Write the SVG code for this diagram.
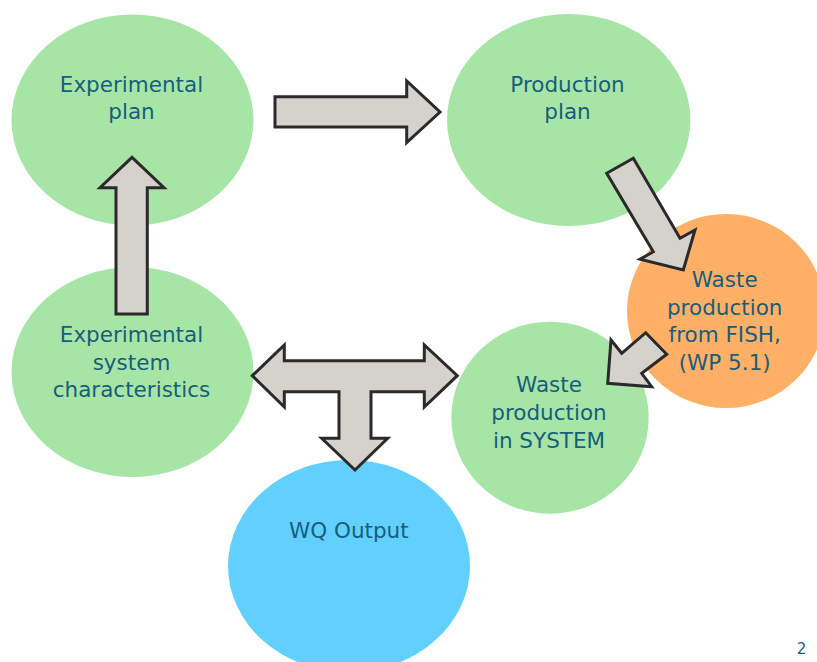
<svg xmlns="http://www.w3.org/2000/svg" width="817" height="662" viewBox="0 0 817 662">
  <defs>
    <style>
      .green { fill: #a7e5a7; }
      .orange { fill: #ffb066; }
      .blue { fill: #61d0ff; }
      .arrow { fill: #d5d2cb; stroke: #2a2a2a; stroke-width: 3; stroke-linejoin: miter; }
      .label { font-family: "DejaVu Sans", Verdana, sans-serif; font-size: 21.5px; fill: #175e7c; text-anchor: middle; }
      .page { font-family: "DejaVu Sans", Verdana, sans-serif; font-size: 15px; fill: #175e7c; text-anchor: middle; }
    </style>
    <!-- the orange node is trimmed at the right: full width above y=373, stops at x=803 below -->
    <clipPath id="fishClip">
      <rect x="0" y="0" width="817" height="373"/>
      <rect x="0" y="0" width="803" height="662"/>
    </clipPath>
  </defs>

  <rect x="0" y="0" width="817" height="662" fill="#ffffff"/>

  <g id="node-experimental-plan">
    <ellipse class="green" cx="132.5" cy="120" rx="121" ry="105.5"/>
    <text class="label" x="131.5" y="91.5">Experimental</text>
    <text class="label" x="131.5" y="119">plan</text>
  </g>

  <g id="node-production-plan">
    <ellipse class="green" cx="568.7" cy="120" rx="121.7" ry="106"/>
    <text class="label" x="567.5" y="91.5">Production</text>
    <text class="label" x="567.5" y="119">plan</text>
  </g>

  <g id="node-system-characteristics">
    <ellipse class="green" cx="132.5" cy="372" rx="121" ry="105"/>
    <text class="label" x="131.5" y="342.3">Experimental</text>
    <text class="label" x="131.5" y="369.8">system</text>
    <text class="label" x="131.5" y="397">characteristics</text>
  </g>

  <g id="node-waste-fish">
    <ellipse class="orange" cx="726" cy="311" rx="99" ry="97" clip-path="url(#fishClip)"/>
    <text class="label" x="724.7" y="286.7">Waste</text>
    <text class="label" x="724.7" y="314.5">production</text>
    <text class="label" x="724.7" y="342">from FISH,</text>
    <text class="label" x="724.7" y="369.8">(WP 5.1)</text>
  </g>

  <g id="node-waste-system">
    <ellipse class="green" cx="550" cy="417.7" rx="98.7" ry="96"/>
    <text class="label" x="549" y="392.3">Waste</text>
    <text class="label" x="549" y="420">production</text>
    <text class="label" x="549" y="447.7">in SYSTEM</text>
  </g>

  <g id="node-wq-output">
    <ellipse class="blue" cx="349" cy="566" rx="121" ry="106"/>
    <text class="label" x="348.8" y="538.3">WQ Output</text>
  </g>

  <g id="connectors">
    <!-- Experimental plan to Production plan -->
    <polygon class="arrow" points="275,96.7 406.7,96.7 406.7,81 440,112 406.7,142.7 406.7,127 275,127"/>
    <!-- Production plan to Waste from FISH -->
    <polygon class="arrow" points="633.3,158.3 680,238.3 695,230 683.3,270 640,259.3 653.3,251.7 606.7,173.3"/>
    <!-- Waste from FISH to Waste in SYSTEM -->
    <polygon class="arrow" points="645.7,332.7 666.7,354.3 641.7,373.3 651.7,386.7 607.7,383.3 611,340 621.7,353.3"/>
    <!-- System characteristics to Experimental plan -->
    <polygon class="arrow" points="116,314 116,187.7 100,187.7 132,157.3 164,187.7 147.3,187.7 147.3,314"/>
    <!-- three-way arrow between system characteristics, waste in system and WQ output -->
    <polygon class="arrow" points="252.3,375.7 284.3,345 284.3,360.7 424.3,360.7 424.3,345 457.3,375.7 424.3,407 424.3,391.7 371,391.7 371,438.3 387.7,438.3 355,470 321.7,438.3 339,438.3 339,391.7 284.3,391.7 284.3,407"/>
  </g>

  <text class="page" x="801.5" y="654">2</text>
</svg>
